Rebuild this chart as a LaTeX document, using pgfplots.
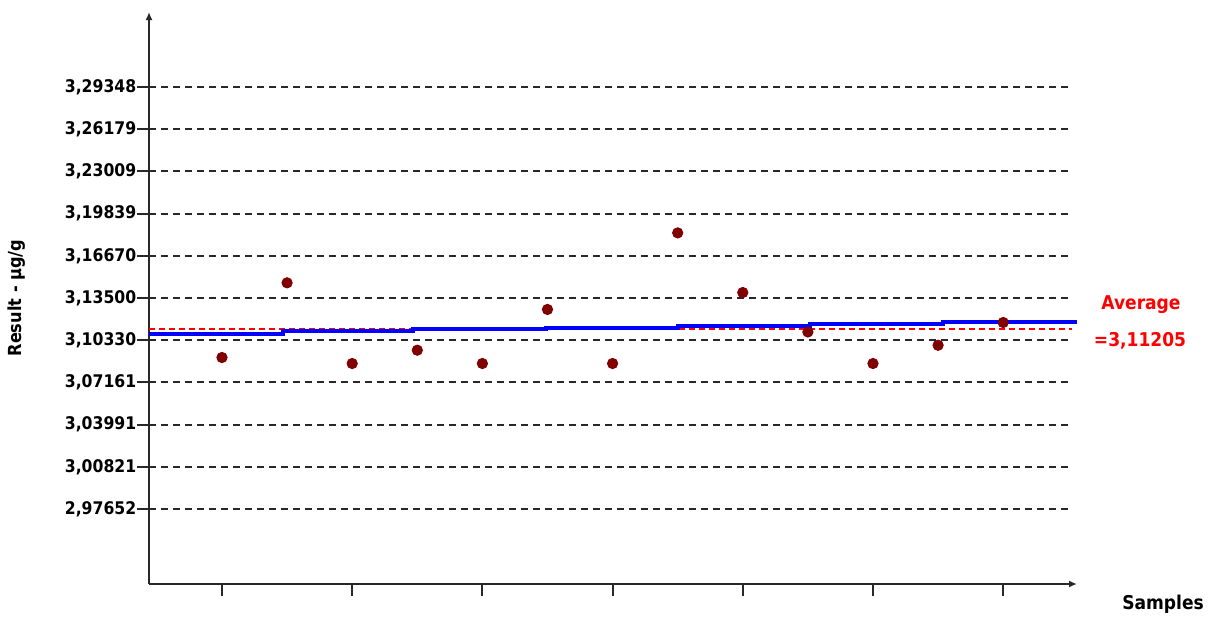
\documentclass[border=0pt]{standalone}
\usepackage{fontspec}
\setmainfont{DejaVu Sans Condensed}
\usepackage{pgfplots}
\pgfplotsset{compat=1.18}
\usetikzlibrary{arrows.meta}
\definecolor{dred}{RGB}{128,0,0}
\definecolor{gline}{RGB}{40,40,40}
\begin{document}
\begin{tikzpicture}
\useasboundingbox (0pt,0pt) rectangle (607.5pt,308pt);
\begin{axis}[
  at={(74.5pt,16pt)}, anchor=south west,
  width=464pt, height=286pt, scale only axis,
  xmin=-0.121, xmax=14.134, ymin=2.92019, ymax=3.34981,
  axis lines=left,
  axis line style={line width=1pt, gline, -{Latex[length=4pt,width=3.5pt]}},
  tick align=outside, major tick length=6pt,
  tick style={line width=1pt, gline},
  xtick={1,3,5,7,9,11,13}, xticklabels={},
  ytick={2.97652,3.00821,3.03991,3.07161,3.10330,3.13500,3.16670,3.19839,3.23009,3.26179,3.29348},
  yticklabels={{2,97652},{3,00821},{3,03991},{3,07161},{3,10330},{3,13500},{3,16670},{3,19839},{3,23009},{3,26179},{3,29348}},
  yticklabel style={font=\bfseries\fontsize{8.7}{10}\selectfont, inner sep=1pt, xshift=0.8pt, text=black},
]
\pgfplotsinvokeforeach{2.97652,3.00821,3.03991,3.07161,3.10330,3.13500,3.16670,3.19839,3.23009,3.26179,3.29348}{
  \addplot[gline, line width=1pt, dash pattern=on 3.5pt off 2.5pt] coordinates {(-0.121,#1) (14.057,#1)};
}
\addplot[red, line width=1pt, dash pattern=on 3pt off 2pt] coordinates {(-0.121,3.11205) (14.057,3.11205)};
\addplot[blue, line width=2pt, const plot] coordinates {
(-0.121,3.1083) (1.94,3.1101) (3.94,3.1116) (5.98,3.1128) (8.0,3.1138) (10.03,3.1153) (12.07,3.1168) (14.134,3.1168)};
\addplot[only marks, mark=*, mark size=2.6pt, dred] coordinates {
(1,3.0903) (2,3.1464) (3,3.0858) (4,3.0958) (5,3.0858) (6,3.1264) (7,3.0858)
(8,3.1839) (9,3.1391) (10,3.1095) (11,3.0858) (12,3.0995) (13,3.1166)};
\end{axis}
\node[rotate=90, font=\bfseries\fontsize{9}{10}\selectfont, text=black] at (8.5pt,159pt) {Result - µg/g};
\node[font=\bfseries\fontsize{9.5}{10}\selectfont, text=black] at (581.5pt,6pt) {Samples};
\node[font=\bfseries\fontsize{9.5}{10}\selectfont, text=red] at (570.5pt,155.5pt) {Average};
\node[font=\bfseries\fontsize{9.5}{10}\selectfont, text=red] at (570pt,137.5pt) {=3,11205};
\end{tikzpicture}
\end{document}
